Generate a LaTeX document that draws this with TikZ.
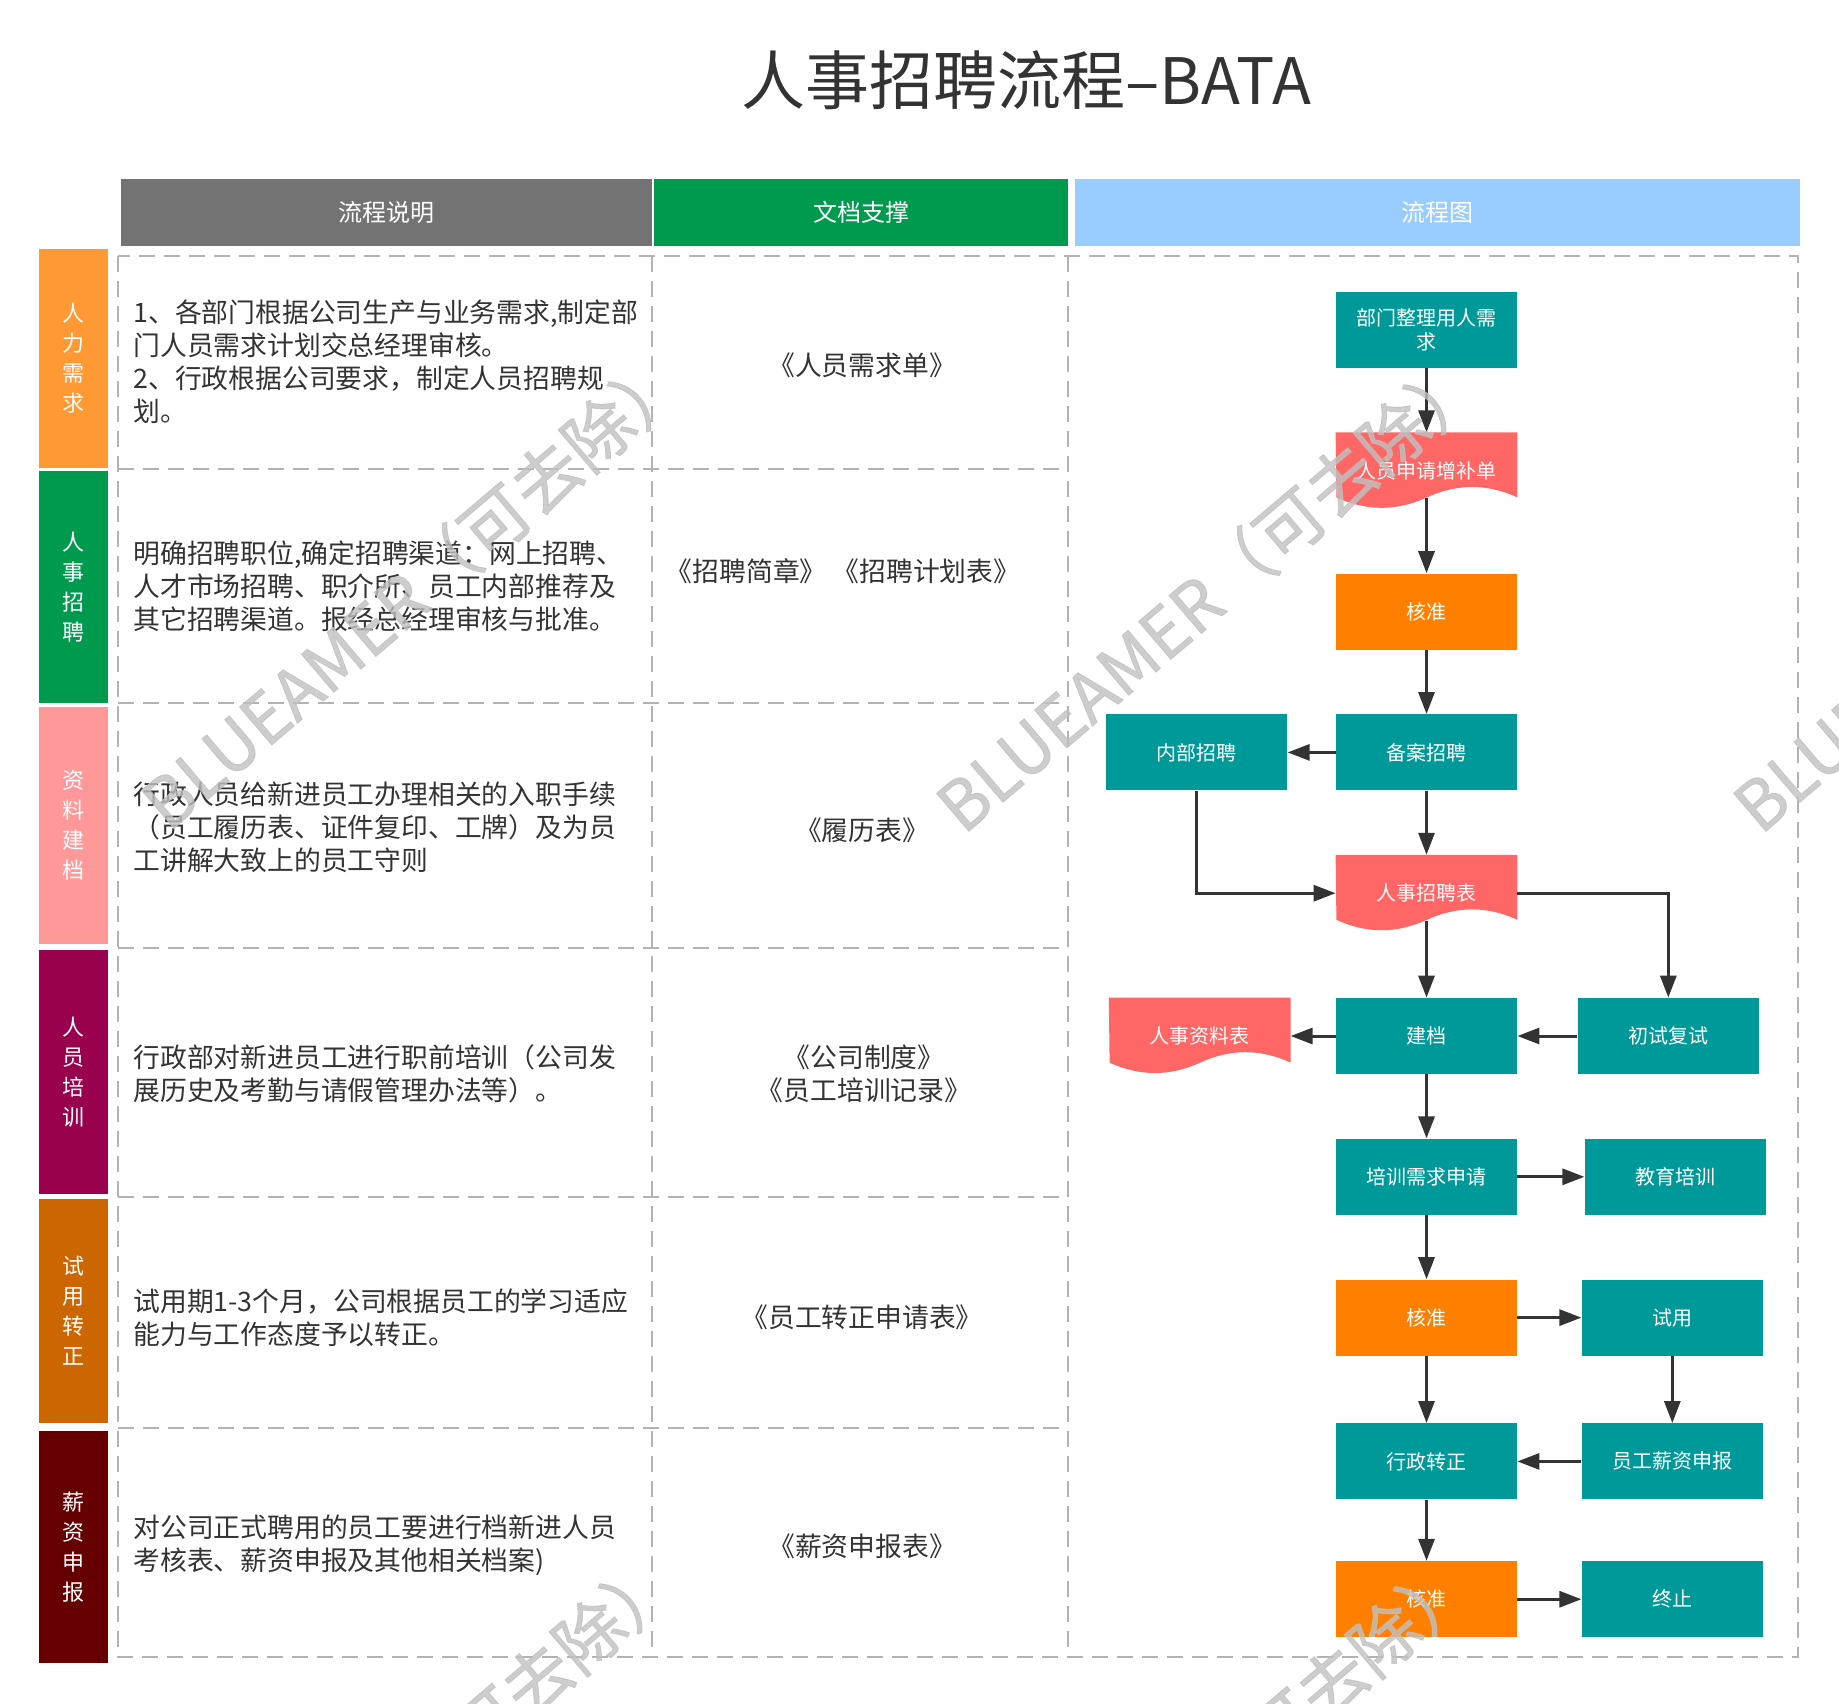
\documentclass[tikz,border=0pt]{standalone}
\usepackage{fontspec}
\setmainfont{Noto Sans CJK SC}
\newfontfamily\wmfont[FakeBold=1.2]{Noto Sans CJK SC}
\usepackage{xcolor}
\usetikzlibrary{positioning, arrows.meta, backgrounds}

\definecolor{textgray}{HTML}{333333}
\definecolor{dashgray}{HTML}{B3B3B3}
\definecolor{headgray}{HTML}{737373}
\definecolor{headgreen}{HTML}{009A4E}
\definecolor{headblue}{HTML}{99CCFF}
\definecolor{demandc}{HTML}{FF9933}
\definecolor{recruitc}{HTML}{009A4E}
\definecolor{filec}{HTML}{FF9999}
\definecolor{trainc}{HTML}{99004D}
\definecolor{trialc}{HTML}{CC6600}
\definecolor{salaryc}{HTML}{660000}
\definecolor{flowteal}{HTML}{009999}
\definecolor{floworange}{HTML}{FF8000}
\definecolor{docred}{HTML}{FF6666}
\definecolor{wmgray}{HTML}{C0C0C0}

\begin{document}
\begin{tikzpicture}[
x=0.5pt, y=-0.5pt,
node distance=32pt,
lane/.style={
rectangle,
minimum width=34.5pt,
inner sep=0pt,
text=white,
align=center,
font=\fontsize{11}{15}\selectfont
},
head/.style={
rectangle,
minimum height=33.5pt,
inner sep=0pt,
text=white,
font=\fontsize{12}{14}\selectfont
},
desc/.style={
anchor=west,
align=left,
inner sep=0pt,
text=textgray,
font=\fontsize{13.4}{16.5}\selectfont
},
docs/.style={
align=center,
inner sep=0pt,
text=textgray,
font=\fontsize{13.4}{16.5}\selectfont
},
cell/.style={
draw=dashgray,
line width=1pt,
dash pattern=on 8pt off 4.5pt
},
block/.style={
rectangle,
minimum width=90.5pt,
minimum height=38pt,
inner sep=2pt,
align=center,
text=white,
font=\fontsize{10}{12}\selectfont
},
taskbox/.style={block, fill=flowteal},
checkbox/.style={block, fill=floworange},
formbox/.style={block},
arrow/.style={
-{Triangle[length=11pt,width=8pt]},
line width=1.5pt,
draw=textgray
},
fromdoc/.style={shorten <=-5.5pt},
wmark/.style={
rotate=40.4,
text=wmgray,
text opacity=0.8,
font=\wmfont\fontsize{34}{34}\selectfont
}
]

\useasboundingbox (0,0) rectangle (1839,1703);

% title and column heads
\node[text=textgray, font=\fontsize{32}{32}\selectfont] (title) at (1026,80) {人事招聘流程–BATA};
\node[head, fill=headgray, minimum width=265.5pt] (hdesc) at (386.5,212.5) {流程说明};
\node[head, fill=headgreen, minimum width=207pt] (hdoc) at (861,212.5) {文档支撑};
\node[head, fill=headblue, minimum width=362.5pt] (hflow) at (1437.5,212.5) {流程图};

% lanes
\node[lane, fill=demandc, minimum height=109.5pt] (lane1) at (73.5,358.5) {人\\力\\需\\求};
\node[lane, fill=recruitc, minimum height=116pt] (lane2) at (73.5,587) {人\\事\\招\\聘};
\node[lane, fill=filec, minimum height=118.5pt] (lane3) at (73.5,825.5) {资\\料\\建\\档};
\node[lane, fill=trainc, minimum height=122pt] (lane4) at (73.5,1072) {人\\员\\培\\训};
\node[lane, fill=trialc, minimum height=112pt] (lane5) at (73.5,1311) {试\\用\\转\\正};
\node[lane, fill=salaryc, minimum height=116pt] (lane6) at (73.5,1547) {薪\\资\\申\\报};

% table
\draw[cell] (118,256) rectangle (1798,1657);
\draw[cell] (652,256) -- (652,1657);
\draw[cell] (1068,256) -- (1068,1657);
\foreach \y in {469,703,948,1197,1428}
  \draw[cell] (118,\y) -- (1068,\y);

% process text
\node[desc] (desc1) at (133,362) {1、各部门根据公司生产与业务需求,制定部\\门人员需求计划交总经理审核。\\2、行政根据公司要求，制定人员招聘规\\划。};
\node[desc] (desc2) at (133,586) {明确招聘职位,确定招聘渠道：网上招聘、\\人才市场招聘、职介所、员工内部推荐及\\其它招聘渠道。报经总经理审核与批准。};
\node[desc] (desc3) at (133,827) {行政人员给新进员工办理相关的入职手续\\（员工履历表、证件复印、工牌）及为员\\工讲解大致上的员工守则};
\node[desc] (desc4) at (133,1074) {行政部对新进员工进行职前培训（公司发\\展历史及考勤与请假管理办法等）。};
\node[desc] (desc5) at (133,1318) {试用期1-3个月，公司根据员工的学习适应\\能力与工作态度予以转正。};
\node[desc] (desc6) at (133,1545) {对公司正式聘用的员工要进行档新进人员\\考核表、薪资申报及其他相关档案)};

% documents
\node[docs] (doc1) at (862,365) {《人员需求单》};
\node[docs] (doc2) at (843,571) {《招聘简章》 《招聘计划表》};
\node[docs] (doc3) at (862,830) {《履历表》};
\node[docs] (doc4) at (864,1074) {《公司制度》\\《员工培训记录》};
\node[docs] (doc5) at (862,1317) {《员工转正申请表》};
\node[docs] (doc6) at (862,1546) {《薪资申报表》};

% flow chart
\node[taskbox] (need) at (1426.5,330) {部门整理用人需\\求};
\node[formbox, below=of need] (apply) {人员申请增补单};
\node[checkbox, below=of apply] (approve1) {核准};
\node[taskbox, below=of approve1] (file) {备案招聘};
\node[taskbox, left=24pt of file] (internal) {内部招聘};
\node[formbox, below=of file] (hrform) {人事招聘表};
\node[taskbox, below=33pt of hrform] (archive) {建档};
\node[formbox, left=22.5pt of archive] (hrdata) {人事资料表};
\node[taskbox, right=30pt of archive] (interview) {初试复试};
\node[taskbox, below=of archive] (trainreq) {培训需求申请};
\node[taskbox, right=33.5pt of trainreq] (training) {教育培训};
\node[checkbox, below=of trainreq] (approve2) {核准};
\node[taskbox, right=of approve2] (trial) {试用};
\node[taskbox, below=33.5pt of approve2] (regular) {行政转正};
\node[taskbox, right=of regular] (salary) {员工薪资申报};
\node[checkbox, below=30.5pt of regular] (approve3) {核准};
\node[taskbox, right=of approve3] (stop) {终止};

\begin{scope}[on background layer]
\foreach \d in {apply,hrform,hrdata}
  \fill[docred] (\d.north west) -- (\d.north east) -- ++(0,65)
    .. controls +(-30.2,-13.9) and +(30.2,-13.9) .. ++(-90.5,0)
    .. controls +(-30.2,13.9) and +(30.2,13.9) .. ++(-90.5,0) -- cycle;
\end{scope}

\draw[arrow] (need) -- (apply);
\draw[arrow, fromdoc] (apply) -- (approve1);
\draw[arrow] (approve1) -- (file);
\draw[arrow] (file) -- (internal);
\draw[arrow] (file) -- (hrform);
\draw[arrow] (internal.south) |- (hrform.west);
\draw[arrow] (hrform.east) -| (interview.north);
\draw[arrow, fromdoc] (hrform) -- (archive);
\draw[arrow] (archive) -- (hrdata);
\draw[arrow] (interview) -- (archive);
\draw[arrow] (archive) -- (trainreq);
\draw[arrow] (trainreq) -- (training);
\draw[arrow] (trainreq) -- (approve2);
\draw[arrow] (approve2) -- (trial);
\draw[arrow] (trial) -- (salary);
\draw[arrow] (approve2) -- (regular);
\draw[arrow] (salary) -- (regular);
\draw[arrow] (regular) -- (approve3);
\draw[arrow] (approve3) -- (stop);

% watermark
\foreach \wx/\wy [count=\i] in {414/590, 1209/593, 2006/593, 405/1792, 1200/1795}
  \node[wmark] (wm\i) at (\wx,\wy) {BLUEAMER（可去除）};

\end{tikzpicture}
\end{document}
